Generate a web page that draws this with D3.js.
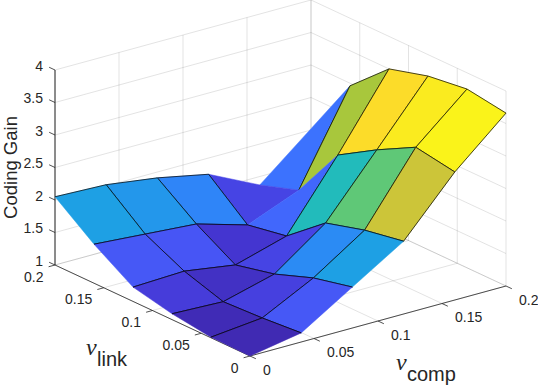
<!DOCTYPE html>
<html>
<head>
<meta charset="utf-8">
<script src="https://cdn.jsdelivr.net/npm/d3@7"></script>
<style>
html, body { margin: 0; padding: 0; background: #fff; }
svg { display: block; }
text { font-family: "Liberation Sans", Arial, sans-serif; fill: #262626; }
</style>
</head>
<body>
<div id="chart"></div>
<script>
const compValues = [0, 0.04, 0.08, 0.12, 0.16, 0.2];
const linkValues = [0, 0.04, 0.08, 0.12, 0.16, 0.2];

// Coding gain, one row per link value
const gainValues = [
    [1.00, 1.14, 1.63, 2.12, 2.97, 3.66],
    [1.01, 1.09, 1.49, 2.01, 3.07, 3.75],
    [1.09, 1.06, 1.27, 1.84, 2.75, 3.67],
    [1.22, 1.25, 1.13, 1.36, 2.39, 3.50],
    [1.60, 1.54, 1.48, 1.25, 1.57, 2.96],
    [2.05, 2.02, 1.91, 1.75, 1.37, 2.02]
];

// Colour index of each patch (0 = bottom of colormap, 1 = top)
const faceColorValues = [
    [0.02, 0.16, 0.37, 0.77, 0.98],
    [0.025, 0.10, 0.30, 0.62, 0.96],
    [0.09, 0.05, 0.11, 0.49, 0.92],
    [0.16, 0.15, 0.07, 0.20, 0.71],
    [0.37, 0.34, 0.28, 0.11, 0.23]
];

const compTicks = [0, 0.05, 0.1, 0.15, 0.2];
const linkTicks = [0, 0.05, 0.1, 0.15, 0.2];
const zTicks = [1, 1.5, 2, 2.5, 3, 3.5, 4];

const parulaPositions = [0, 0.079, 0.143, 0.222, 0.286, 0.429, 0.571, 0.714, 0.857, 1];
const parulaStops = ['#3E26A8', '#4537D5', '#4852F4', '#3E6FFF', '#2E87F7', '#12B1D6', '#37C897', '#ABC739', '#FEC338', '#F9FB15'];

// Patch edges with no line on them in the picture ("comp,link-comp,link" grid indices)
const hiddenEdges = [
    '3,5-4,5', '4,5-5,5', '5,4-5,5', '4,4-4,5', '3,4-4,4', '4,3-4,4',
    '0,0-0,1', '0,1-0,2', '0,2-0,3', '0,3-0,4', '0,4-0,5',
    '0,0-1,0', '1,0-2,0', '2,0-3,0'
];

const width = 538;
const height = 386;
const origin = { x: 250, y: 356 };

// Oblique view: each data axis gets its own screen x/y scale
const compX = d3.scaleLinear().domain([0, 0.2]).range([0, 256]);
const compY = d3.scaleLinear().domain([0, 0.2]).range([0, -70]);
const linkX = d3.scaleLinear().domain([0, 0.2]).range([0, -195]);
const linkY = d3.scaleLinear().domain([0, 0.2]).range([0, -91]);
const zY = d3.scaleLinear().domain([1, 4]).range([0, -195]);

const colorScale = d3.scaleLinear()
    .domain(parulaPositions)
    .range(parulaStops);

const project = (c, l, z) => [
    origin.x + compX(c) + linkX(l),
    origin.y + compY(c) + linkY(l) + zY(z)
];

const svg = d3.select('#chart').append('svg')
    .attr('width', width)
    .attr('height', height);

const drawLine = (a, b, stroke, opacity, sw) => {
    svg.append('line')
        .attr('x1', a[0]).attr('y1', a[1])
        .attr('x2', b[0]).attr('y2', b[1])
        .attr('stroke', stroke)
        .attr('stroke-opacity', opacity)
        .attr('stroke-width', sw);
};

const gridColor = '#262626';

// Wall and floor grid
zTicks.forEach(z => {
    drawLine(project(0, 0.2, z), project(0.2, 0.2, z), gridColor, 0.13, 1);
    drawLine(project(0.2, 0.2, z), project(0.2, 0, z), gridColor, 0.13, 1);
});
compTicks.forEach(c => {
    drawLine(project(c, 0.2, 1), project(c, 0.2, 4), gridColor, 0.13, 1);
    drawLine(project(c, 0, 1), project(c, 0.2, 1), gridColor, 0.13, 1);
});
linkTicks.forEach(l => {
    drawLine(project(0.2, l, 1), project(0.2, l, 4), gridColor, 0.13, 1);
    drawLine(project(0, l, 1), project(0.2, l, 1), gridColor, 0.13, 1);
});

// Axis lines
const axisColor = '#262626';
drawLine(project(0, 0.2, 1), project(0, 0.2, 4), axisColor, 1, 1);
drawLine(project(0, 0, 1), project(0, 0.2, 1), axisColor, 0.8, 1);
drawLine(project(0, 0, 1), project(0.2, 0, 1), axisColor, 0.8, 1);

zTicks.forEach(z => {
    const p = project(0, 0.2, z);
    drawLine(p, project(0, 0.206, z), axisColor, 0.8, 1);
    svg.append('text')
        .attr('x', p[0] - 12)
        .attr('y', p[1] - 3)
        .attr('text-anchor', 'end')
        .attr('dominant-baseline', 'middle')
        .style('font-size', '14px')
        .text(z);
});
linkTicks.forEach(l => {
    const p = project(0, l, 1);
    drawLine(p, project(-0.005, l, 1), axisColor, 0.8, 1);
    svg.append('text')
        .attr('x', p[0] - 11.5)
        .attr('y', p[1] + 13)
        .attr('text-anchor', 'end')
        .attr('dominant-baseline', 'middle')
        .style('font-size', '14px')
        .text(l);
});
compTicks.forEach(c => {
    const p = project(c, 0, 1);
    drawLine(p, project(c, -0.006, 1), axisColor, 0.8, 1);
    svg.append('text')
        .attr('x', p[0] + 13)
        .attr('y', p[1] + 15)
        .attr('text-anchor', 'start')
        .attr('dominant-baseline', 'middle')
        .style('font-size', '14px')
        .text(c);
});

// Surface patches, painted from the back corner to the front
const faces = [];
faceColorValues.forEach((row, j) => {
    row.forEach((value, i) => faces.push({ i, j, value }));
});
faces.sort((a, b) => (b.i + b.j) - (a.i + a.j));

const vertex = (i, j) => project(compValues[i], linkValues[j], gainValues[j][i]);

faces.forEach(face => {
    const corners = [[face.i, face.j], [face.i + 1, face.j], [face.i + 1, face.j + 1], [face.i, face.j + 1]];
    svg.append('polygon')
        .attr('points', corners.map(c => vertex(c[0], c[1]).join(',')).join(' '))
        .attr('fill', colorScale(face.value))
        .attr('stroke', colorScale(face.value))
        .attr('stroke-width', 0.5);

    corners.forEach((a, k) => {
        const b = corners[(k + 1) % 4];
        const pair = [a, b].map(c => c.join(',')).sort().join('-');
        if (hiddenEdges.includes(pair)) return;
        drawLine(vertex(a[0], a[1]), vertex(b[0], b[1]), '#000', 0.9, 0.8);
    });
});

// Axis titles
svg.append('text')
    .attr('transform', 'translate(17,167.5) rotate(-90)')
    .attr('text-anchor', 'middle')
    .style('font-size', '18.5px')
    .text('Coding Gain');

const addSubLabel = (x, y, sub) => {
    svg.append('text')
        .attr('x', x)
        .attr('y', y)
        .style('font-family', '"Liberation Serif", serif')
        .style('font-style', 'italic')
        .style('font-size', '24px')
        .text('\u03BD');
    svg.append('text')
        .attr('x', x + 11)
        .attr('y', y + 11)
        .style('font-size', '20px')
        .text(sub);
};
addSubLabel(86, 355, 'link');
addSubLabel(396, 370, 'comp');
</script>
</body>
</html>
